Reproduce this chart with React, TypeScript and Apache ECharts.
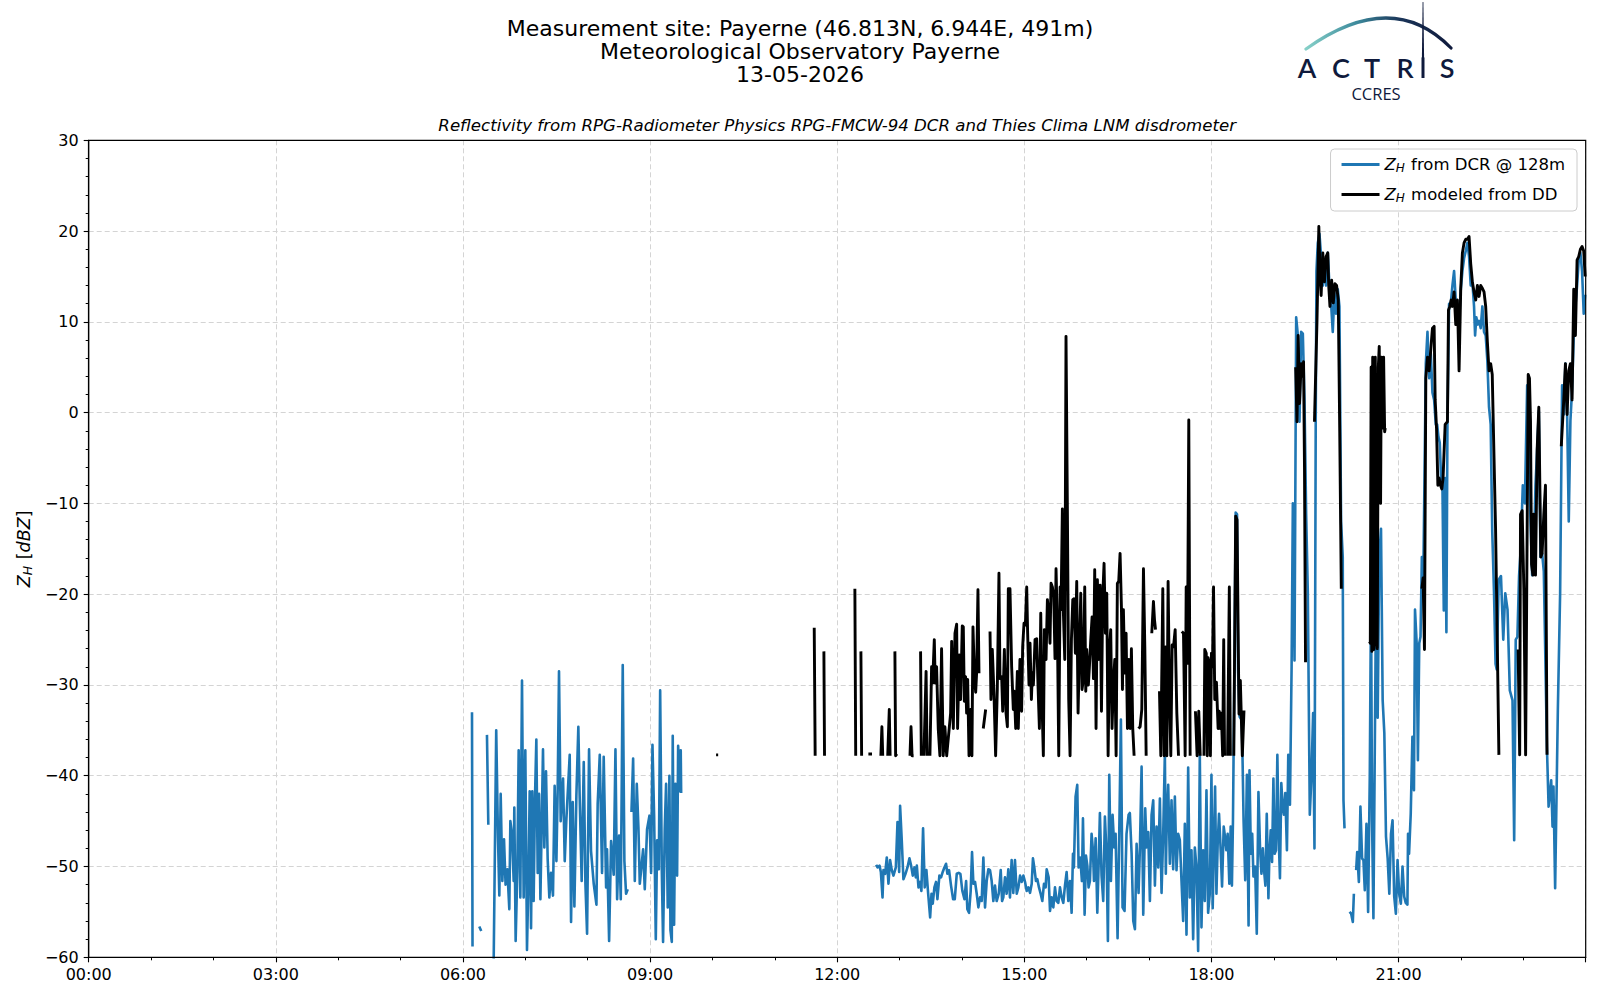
import React, { useEffect, useRef } from "react";
import * as echarts from "echarts";

const FONT = "'DejaVu Sans', 'Noto Sans', sans-serif";

const titleLines = [
  "Measurement site: Payerne (46.813N, 6.944E, 491m)",
  "Meteorological Observatory Payerne",
  "13-05-2026",
];
const subtitle =
  "Reflectivity from RPG-Radiometer Physics RPG-FMCW-94 DCR and Thies Clima LNM disdrometer";
const xTickLabels = ["00:00", "03:00", "06:00", "09:00", "12:00", "15:00", "18:00", "21:00"];

// time in minutes since 00:00 UTC, reflectivity in dBZ ; null = data gap
const dcrMorning = [
  [368.7, -33.0], [369.2, -58.8], null,
  [375.7, -56.6], [377.6, -57.1], null,
  [383.1, -35.5], [384.4, -45.4], null,
  [389.5, -61], [392.0, -35.0], [393.7, -46.8], [395.0, -53.2], [396.3, -42.0], [397.9, -51.6], [399.5, -47.0],
  [401.0, -52.0], [402.7, -50.3], [404.6, -54.7], [405.6, -45.0], [407.2, -46.4], [408.8, -51.6], [409.4, -43.5],
  [410.7, -58.2], [412.3, -50.5], [413.6, -37.2], [415.2, -53.4], [416.8, -29.5], [418.4, -53.4], [420.0, -37.2],
  [421.6, -59.2], [423.2, -50.1], [424.2, -41.7], [425.5, -56.8], [426.7, -41.7], [428.0, -53.8], [429.3, -42.4],
  [430.6, -36.0], [431.9, -50.7], [433.2, -42.0], [434.5, -53.6], [437.0, -37.1], [438.3, -47.9], [439.9, -39.5],
  [441.5, -49.2], [443.1, -53.4], [444.7, -50.7], [446.6, -53.2], [448.2, -41.1], [449.9, -49.4], [451.1, -41.7],
  [452.4, -28.5], [454.0, -45.0], [456.3, -40.3], [457.9, -49.4], [459.5, -44.8], [462.7, -37.7], [464.0, -56.1],
  [465.6, -42.9], [467.2, -54.4], [469.1, -42.2], [471.0, -34.6], [472.3, -42.4], [474.2, -51.6], [476.2, -38.5],
  [477.8, -51.9], [479.4, -57.4], [481.3, -37.1], [483.2, -48.3], [485.8, -51.9], [488.4, -54.2], [489.6, -43.1],
  [491.6, -37.7], [493.8, -50.7], [495.4, -37.9], [497.7, -52.3], [498.6, -48.1], [500.6, -58.2], [502.5, -47.2],
  [505.0, -50.9], [506.7, -37.1], [508.3, -53.6], [510.2, -46.6], [511.8, -53.6], [513.7, -27.8], [515.3, -49.4],
  [516.9, -53.0], [518.5, -52.5], null,
  [522.1, -44.0], [523.7, -38.1], [525.3, -51.6], [527.2, -40.9], [528.8, -45.7], [530.1, -51.9], [533.3, -48.1],
  [534.9, -52.5], [537.1, -45.9], [539.4, -44.4], [541.0, -50.7], [542.3, -36.6], [543.9, -44.4], [545.5, -58.0],
  [546.8, -47.1], [548.4, -50.3], [549.7, -30.6], [551.3, -50.5], [552.5, -58.3], [554.1, -45.9], [555.4, -40.9],
  [557.0, -54.5], [558.6, -40.0], [559.6, -57.0], [560.9, -58.3], [561.8, -35.6], [563.1, -56.4], [564.4, -40.9],
  [566.0, -51.0], [567.0, -36.7], [568.6, -41.7], [569.5, -37.2], [569.9, -41.9],
];

const dcrAfternoon = [
  [757.5, -49.8], [758.8, -50.1], [760.7, -49.9], [762.0, -50.6], [763.6, -53.4], [764.5, -50.4], [766.1, -50.8],
  [767.7, -49.0], [769.3, -51.9], [770.9, -49.3], [772.5, -50.4], [774.1, -51.0], [776.4, -50.1], [778.0, -45.1],
  [779.6, -50.6], [780.5, -43.3], [782.1, -47.1], [783.7, -51.4], [785.7, -50.8], [787.6, -50.1], [789.5, -49.1],
  [791.1, -49.9], [792.7, -51.0], [794.3, -50.1], [795.6, -51.2], [796.6, -49.9], [798.2, -52.3], [799.8, -51.7],
  [801.0, -52.7], [802.6, -45.8], [804.2, -52.3], [805.8, -50.4], [807.5, -53.0], [809.4, -55.6], [810.7, -53.0],
  [811.9, -54.1], [813.5, -52.3], [815.1, -51.7], [816.4, -53.6], [818.3, -51.0], [819.9, -51.2], [821.5, -50.6],
  [823.1, -50.1], [824.7, -49.7], [826.0, -50.8], [827.6, -50.4], [829.5, -52.1], [831.5, -53.6], [833.1, -53.6],
  [835.0, -50.8], [836.9, -50.7], [838.5, -50.8], [840.4, -52.7], [842.4, -53.6], [844.0, -51.6], [845.2, -54.7],
  [846.8, -55.1], [848.4, -52.7], [849.7, -48.4], [851.0, -51.9], [852.6, -51.7], [854.2, -53.0], [855.8, -54.5],
  [857.4, -53.4], [859.0, -53.8], [860.6, -49.0], [862.2, -54.5], [863.8, -51.6], [865.4, -50.3], [867.0, -50.4],
  [868.6, -51.6], [870.2, -53.8], [871.8, -52.1], [873.4, -53.8], [875.4, -53.0], [877.3, -50.4], [878.6, -53.8],
  [879.8, -53.4], [881.4, -51.2], [883.0, -53.0], [884.6, -50.3], [886.2, -53.4], [887.8, -49.3], [889.4, -52.9],
  [891.0, -49.3], [892.7, -53.0], [894.3, -52.3], [895.9, -51.0], [897.5, -51.7], [899.1, -51.0], [900.7, -51.7],
  [902.3, -52.7], [903.9, -52.3], [905.5, -52.9], [907.1, -51.9], [908.3, -49.1], [909.6, -50.1], [911.2, -51.6],
  [912.5, -51.4], [914.1, -52.3], [915.7, -53.0], [917.3, -53.8], [918.9, -51.9], [920.5, -52.3], [921.5, -50.3],
  [923.4, -51.2], [924.7, -54.9], [926.3, -53.4], [927.9, -54.5], [929.5, -52.3], [931.1, -53.8], [932.7, -54.0],
  [934.3, -52.3], [935.9, -53.4], [937.5, -54.0], [939.1, -52.1], [940.7, -50.6], [942.3, -53.8], [943.9, -51.6],
  [945.5, -55.1], [946.8, -48.6], [947.7, -50.1], [949.3, -42.3], [950.9, -41.0], [952.2, -50.1], [953.8, -49.0],
  [955.4, -51.6], [956.4, -44.7], [958.0, -55.3], [959.3, -48.8], [960.6, -49.9], [961.8, -52.3], [963.1, -51.6],
  [964.7, -46.4], [966.0, -48.2], [967.0, -51.6], [968.6, -46.9], [970.2, -55.1], [971.4, -50.1], [972.7, -44.1],
  [974.3, -51.0], [975.9, -53.8], [977.5, -44.5], [979.1, -48.6], [980.4, -58.2], [981.7, -39.9], [983.3, -51.6],
  [984.9, -44.3], [986.5, -47.9], [987.8, -46.4], [989.7, -57.9], [991.3, -46.4], [992.9, -33.8], [994.5, -54.5],
  [996.4, -54.9], [998.3, -46.4], [1000.3, -44.3], [1001.5, -44.1], [1003.2, -48.6], [1004.8, -56.0], [1006.4, -56.9],
  [1008.0, -47.5], [1009.9, -52.9], [1011.2, -47.9], [1012.8, -39.0], [1014.4, -55.3], [1016.3, -43.6], [1017.6, -47.9],
  [1019.2, -46.2], [1020.8, -53.8], [1022.4, -44.3], [1024.0, -42.7], [1025.6, -52.1], [1027.2, -45.6], [1028.8, -50.1],
  [1030.4, -42.5], [1032.0, -52.9], [1033.6, -46.4], [1035.2, -37.5], [1036.1, -50.8], [1037.1, -44.5], [1038.4, -41.0],
  [1040.0, -49.7], [1041.6, -42.7], [1043.2, -50.3], [1044.8, -42.3], [1046.4, -50.4], [1048.0, -46.4], [1049.6, -47.1],
  [1051.2, -51.6], [1052.8, -56.0], [1054.4, -45.3], [1056.0, -57.5], [1057.6, -39.1], [1059.2, -53.4], [1060.8, -48.2],
  [1062.4, -58.0], [1064.0, -47.9], [1065.6, -50.1], [1067.2, -59.3], [1068.8, -37.7], [1070.4, -56.7], [1072.0, -48.2],
  [1073.6, -53.8], [1075.2, -41.6], [1076.8, -55.1], [1078.4, -53.0], [1080.0, -39.9],
];

const dcrEvening = [
  [1081.2, -54.6], [1082.2, -48.6], [1083.5, -41.2], [1084.8, -53.0], [1086.0, -47.5], [1087.3, -44.2], [1088.6, -47.5],
  [1090.2, -52.2], [1091.8, -45.6], [1093.0, -46.7], [1094.3, -48.2], [1095.6, -46.4], [1097.2, -51.9], [1098.5, -45.6],
  [1099.7, -52.1], [1100.7, -44.9], [1102.0, -29.1], [1103.3, -11.0], [1104.6, -11.2], [1105.6, -28.5], [1107.1, -33.5],
  [1109.3, -33.9], [1110.9, -44.9], [1112.5, -51.5], [1114.1, -39.9], [1115.7, -56.5], [1116.6, -39.4], [1117.9, -48.6],
  [1119.2, -46.4], [1120.4, -51.1], [1122.0, -50.0], [1123.6, -57.4], [1125.2, -41.8], [1126.8, -48.2], [1128.1, -50.8],
  [1129.4, -48.0], [1130.6, -50.4], [1131.9, -52.1], [1133.2, -44.2], [1134.8, -53.5], [1135.7, -48.9], [1137.0, -46.0],
  [1138.3, -49.5], [1139.6, -40.3], [1140.8, -48.6], [1142.1, -48.2], [1143.4, -37.7], [1144.6, -46.4], [1145.9, -51.3],
  [1147.2, -40.8], [1148.5, -43.4], [1149.7, -44.3], [1151.0, -41.9], [1152.6, -48.2], [1153.9, -37.7], [1155.5, -43.2],
  [1157.1, -28.0], [1158.3, -10.0], [1159.9, -27.3], [1161.5, 10.5], [1163.1, 8.5], [1164.7, -1.0], [1166.3, 8.9],
  [1167.9, 8.7], [1169.5, 1.4], [1171.1, -11.2], [1172.7, -19.8], [1174.6, -44.3], [1176.2, -40.0], [1177.8, -33.1],
  [1179.1, -48.0], [1180.3, -1.0], [1181.0, 15.6], [1182.3, 18.7], [1183.9, 19.7], [1185.5, 17.2], [1187.1, 14.0],
  [1188.7, 16.8], [1190.3, 14.0], [1191.9, 17.6], [1193.5, 14.0], [1195.1, 12.0], [1196.7, 8.9], [1198.3, 13.2],
  [1199.9, 10.9], [1201.5, 13.6], [1203.1, 11.7], [1204.7, -12.0], [1206.3, -15.9], [1207.0, -42.7], [1208.0, -45.8],
];

const dcrNight = [
  [1212.8, -55.0], [1214.4, -55.2], [1216.0, -56.1], [1217.0, -53.0], null,
  [1219.2, -50.4], [1220.2, -48.4], [1221.8, -51.7], [1223.3, -43.4], [1224.9, -49.1], [1226.2, -49.3], [1227.5, -52.6],
  [1229.1, -45.3], [1230.7, -55.0], [1232.3, -40.0], [1233.5, -20.0], [1234.5, -45.0], [1235.8, -55.7], [1238.3, -20.6],
  [1239.9, -33.6], [1241.4, -15.9], [1243.1, -12.8], [1244.7, -31.7], [1246.3, -35.3], [1247.9, -46.7], [1249.5, -49.1],
  [1251.1, -53.0], [1252.7, -46.4], [1254.2, -44.9], [1255.8, -53.3], [1257.4, -55.2], [1259.0, -49.3], [1260.6, -53.0],
  [1262.2, -54.1], [1263.8, -50.0], [1265.4, -53.3], [1266.9, -54.0], [1268.5, -54.2], [1269.1, -46.4], [1270.1, -48.6],
  [1271.7, -44.2], [1273.3, -35.7], [1274.8, -41.6], [1275.8, -21.7], [1277.4, -25.4], [1278.6, -38.3], [1279.9, -25.4],
  [1281.1, -24.7], [1282.4, -15.9], [1283.6, -19.8], [1284.9, -7.6], [1286.2, 5.4], [1287.8, 8.9], [1289.4, 3.8],
  [1291.0, 6.5], [1292.6, 2.2], [1294.2, 1.4], [1295.8, -1.3], [1297.1, -1.3], [1298.4, -2.7], [1299.6, -3.3],
  [1300.9, -7.2], [1302.2, -8.0], [1303.5, -21.8], [1304.8, -7.2], [1306.0, -24.2], [1307.0, -1.3], [1308.6, 12.0],
  [1310.2, 12.0], [1311.8, 14.0], [1313.4, 15.6], [1315.0, 12.4], [1316.6, 12.0], [1318.2, 10.0], [1319.8, 13.5],
  [1321.4, 15.6], [1323.0, 17.0], [1324.6, 17.8], [1326.2, 18.7], [1327.8, 17.2], [1329.4, 14.0], [1331.0, 14.4],
  [1332.6, 11.7], [1333.6, 8.5], [1334.8, 10.5], [1336.1, 9.7], [1337.4, 10.1], [1339.0, 9.3], [1340.6, 11.7],
  [1342.2, 8.9], [1343.8, 8.5], [1345.4, 5.7], [1347.0, 0.6], [1348.6, -1.3], [1350.1, -13.1], [1351.8, -19.8],
  [1353.3, -27.7], [1354.4, -28.3], [1356.3, -18.4], [1358.5, -18.0], [1360.7, -25.0], [1362.6, -19.9], [1364.8, -21.7],
  [1367.0, -30.6], [1369.6, -31.7], [1371.2, -47.1], [1372.7, -25.0], [1374.3, -24.7], [1375.9, -18.0], [1377.5, -15.0],
  [1379.5, -8.0], [1381.5, -10.0], [1383.7, 3.0], [1385.3, -4.1], [1386.9, -12.0], [1388.5, -17.9], [1390.1, -15.9],
  [1391.7, -8.0], [1393.3, -4.1], [1394.9, 0.2], [1396.5, -15.9], [1398.1, -15.5], [1399.7, -17.5], [1402.7, -36.8],
  [1404.3, -43.4], [1406.8, -40.5], [1408.1, -45.6], [1409.0, -41.2], [1410.6, -52.4], [1413.2, -32.8], [1415.4, -19.9],
  [1417.3, 3.0], [1418.9, -0.2], [1420.5, 5.4], [1422.1, 0.2], [1423.7, -12.0], [1425.3, -0.9], [1426.9, 2.6],
  [1428.5, 8.5], [1430.1, 11.7], [1431.7, 14.0], [1433.3, 16.8], [1434.9, 17.6], [1436.5, 15.6], [1438.1, 10.9],
  [1439.5, 13.0],
];

const ddMorning = [[603.5, -37.7], [605.5, -37.7]];

const ddNoon = [
  [697.9, -23.7], [698.8, -37.8], null,
  [707.2, -26.3], [707.8, -37.8], null,
  [737.0, -19.4], [737.8, -37.8], null,
  [742.8, -26.3], [743.5, -37.8], null,
  [750.0, -37.6], [753.5, -37.6], null,
  [762.0, -37.8], [763.0, -34.6], [763.8, -37.8], null,
  [768.6, -37.8], [770.1, -32.7], [770.9, -37.8], null,
  [775.5, -26.3], [776.2, -37.8], [777.4, -37.6], null,
  [790.0, -37.8], [791.0, -34.6], [792.0, -37.8], [793.5, -37.8], null,
  [800.2, -26.3], [800.9, -37.8], null,
  [803.4, -37.8], [805.5, -28.5], [806.5, -37.8], null,
];

const ddAfternoon = [
  [809.2, -37.8], [810.8, -28.0], [811.8, -29.8], [812.4, -28.0], [813.4, -25.0], [814.3, -29.8], [815.6, -28.0],
  [817.2, -34.8], [818.8, -37.8], [820.4, -26.0], [822.0, -37.8], [823.6, -34.6], [825.3, -37.8], [829.1, -33.1],
  [830.1, -25.2], [831.7, -34.8], [833.3, -24.3], [834.9, -23.3], [835.8, -34.8], [837.4, -26.7], [838.7, -31.6],
  [840.3, -23.5], [841.3, -23.6], [842.3, -31.8], [843.5, -29.1], [844.5, -33.1], [845.5, -29.4], [846.8, -37.8],
  [848.4, -32.7], [849.6, -37.8], [850.6, -23.6], [851.9, -28.7], [853.2, -30.8], [854.1, -28.7], [855.4, -19.5],
  [856.4, -28.7], null,
  [860.5, -34.8], [862.8, -32.7], null,
  [867.0, -24.1], [867.9, -31.6], [869.2, -26.1], [870.8, -30.9], [872.4, -37.8], [874.0, -30.5], [875.6, -17.7],
  [876.6, -29.3], [878.2, -29.1], [879.2, -32.9], [880.8, -26.1], [882.4, -33.1], [883.7, -34.6], [884.6, -19.4],
  [886.2, -19.4], [887.8, -28.0], [889.4, -32.7], [890.4, -30.7], [891.7, -34.8], [893.3, -28.5], [894.2, -34.8],
  [895.8, -27.2], [897.4, -32.9], [898.4, -25.8], [899.7, -23.2], [901.0, -23.4], [902.3, -19.2], [903.2, -24.3],
  [904.5, -30.0], [905.5, -25.4], [906.8, -31.6], [907.7, -28.7], [908.7, -30.0], [910.3, -25.0], [911.9, -24.9],
  [913.2, -30.2], [914.5, -34.8], [915.8, -22.1], [916.7, -30.5], [918.3, -37.8], [919.3, -23.9], [920.9, -27.2],
  [922.2, -20.6], [923.5, -22.1], [924.7, -25.4], [925.7, -18.8], [927.0, -19.2], [928.3, -20.3], [929.5, -27.1],
  [930.5, -17.2], [931.8, -23.6], [933.1, -37.8], [934.4, -19.2], [935.3, -21.7], [936.6, -10.6], [937.6, -22.1],
  [938.9, -27.2], [940.1, 8.4], [941.4, -10.4], [942.7, -31.6], [944.0, -37.8], [945.3, -25.0], [946.6, -20.6],
  [947.8, -20.5], [949.1, -26.5], [950.4, -18.6], [951.7, -33.1], [953.0, -26.1], [954.3, -19.9], [955.5, -30.5],
  [956.8, -29.4], [958.1, -19.2], [959.1, -30.7], [960.0, -26.1], [961.6, -30.0], [962.6, -28.0], [963.9, -25.0],
  [965.2, -22.5], [966.5, -29.3], [967.7, -17.3], [969.0, -34.8], [970.3, -18.4], [971.6, -27.2], [972.9, -19.0],
  [974.2, -32.9], [975.4, -20.3], [976.7, -16.6], [978.0, -24.3], [979.3, -19.9], [980.6, -37.8], [981.9, -26.0],
  [983.1, -23.9], [984.4, -34.8], [985.7, -29.8], [987.0, -27.2], [988.3, -37.8], [989.5, -18.8], [990.8, -18.6],
  [992.1, -15.5], [993.4, -21.4], [994.4, -30.5], [995.3, -21.7], [996.6, -28.7], [997.9, -24.3], [999.2, -34.8],
  [1000.5, -27.2], [1001.8, -34.8], [1003.0, -26.0], [1004.3, -34.8], [1005.6, -37.8], null,
  [1009.8, -34.8], [1011.4, -34.6], [1013.0, -32.7], [1014.6, -17.2], [1015.9, -25.8], [1017.2, -37.8], null,
  [1022.6, -24.3], [1024.2, -20.8], [1025.2, -22.8], [1026.2, -23.9], null,
  [1030.0, -30.7], [1031.3, -37.8], [1033.2, -19.4], [1034.5, -37.8], [1035.8, -25.8], [1037.1, -37.8], [1038.3, -18.6],
  [1039.6, -30.5], [1040.9, -37.8], [1042.2, -25.6], [1043.5, -25.8], [1045.1, -23.9], [1046.7, -33.1], [1048.3, -37.8], null,
  [1051.5, -24.1], [1053.1, -24.3], [1054.7, -37.8], [1055.7, -19.2], [1056.9, -27.6], [1058.2, -0.8], [1059.5, -37.8], null,
  [1064.6, -32.9], [1066.2, -37.8], [1067.8, -32.9], [1069.2, -37.8], null,
  [1072.8, -37.8], [1073.6, -26.1], [1075.0, -26.5], [1076.0, -37.8], [1076.8, -27.0], [1078.0, -27.7], [1079.0, -37.8],
  [1080.0, -26.5], [1081.0, -28.0], [1082.0, -19.2], [1083.2, -31.6], [1084.8, -29.7], [1086.4, -34.8], [1087.5, -32.9],
  [1088.6, -34.8], [1089.5, -33.1], [1090.8, -37.8], [1091.8, -25.0], [1092.6, -37.8], null,
  [1095.5, -37.8], [1097.2, -19.2], [1098.2, -37.8], null,
  [1101.5, -37.8], [1103.3, -11.4], [1104.6, -11.8], [1106.5, -33.2], [1107.8, -29.5], [1109.7, -37.8], [1111.3, -32.8],
];

const ddEvening = [
  [1161.0, 5.0], [1162.3, -1.0], [1163.4, 8.5], [1164.7, 1.0], [1166.3, 5.4], [1167.5, 4.0], [1168.6, 5.6],
  [1169.5, -6.0], [1170.5, -27.5], null,
  [1179.1, -1.0], [1181.5, 10.0], [1183.3, 20.5], [1184.5, 15.0], [1185.5, 12.9], [1187.1, 17.6], [1188.7, 14.4],
  [1190.3, 17.2], [1191.9, 17.6], [1192.8, 14.0], [1194.0, 11.7], [1195.6, 14.6], [1197.2, 12.1], [1198.8, 14.2],
  [1200.4, 14.0], [1202.0, 12.4], [1203.4, -2.1], [1204.9, -19.4], null,
  [1232.0, -25.2], [1232.8, -25.4], [1233.6, 5.0], [1234.3, -26.3], [1235.1, 6.1], [1236.3, -26.1], [1237.6, 6.1],
  [1238.9, -25.4], [1239.5, -26.0], [1240.5, 5.0], [1241.4, 7.3], [1242.7, -10.0], [1243.4, 6.1], [1244.6, -1.7],
  [1245.6, 6.1], [1246.6, -2.1], [1247.2, -1.7],
];

const ddNight = [
  [1282.4, -19.4], [1283.6, -18.2], [1284.9, -26.1], [1286.2, 3.8], [1287.8, 6.1], [1289.4, 4.6], [1291.0, 7.0],
  [1292.6, 9.3], [1294.2, 9.5], [1295.2, 1.4], [1296.5, -1.7], [1297.8, -8.0], [1299.0, -7.2], [1300.3, -8.0],
  [1301.6, -8.4], [1302.8, -7.2], [1304.8, -1.3], [1307.0, -1.0], [1308.0, 11.3], [1309.3, 11.7], [1310.6, 12.4],
  [1311.8, 11.7], [1313.4, 13.3], [1315.0, 9.7], [1316.6, 12.4], [1318.2, 4.6], [1319.8, 13.7], [1321.4, 17.6],
  [1323.0, 18.7], [1324.6, 19.1], [1326.2, 19.1], [1327.8, 19.4], [1329.4, 16.4], [1331.0, 14.4], [1332.6, 13.3],
  [1334.2, 12.4], [1335.8, 14.0], [1337.4, 12.8], [1339.0, 14.0], [1340.6, 13.7], [1342.2, 13.3], [1343.8, 11.7],
  [1345.4, 7.8], [1347.0, 4.6], [1348.6, 5.4], [1350.1, 4.2], [1351.8, -4.9], [1353.3, -12.8], [1355.0, -25.7],
  [1356.5, -37.7], null,
  [1375.0, -26.1], [1376.5, -37.7], [1377.3, -11.2], [1378.9, -10.8], [1380.5, -19.4], [1382.2, -37.7], [1384.7, 4.2],
  [1385.9, 3.8], [1386.9, -0.9], [1387.9, -16.7], [1389.2, -17.9], [1390.1, -11.2], [1391.7, -17.9], [1393.3, -4.1],
  [1394.9, 0.6], [1395.9, -8.0], [1396.8, -15.9], [1398.1, -15.5], [1399.7, -11.2], [1401.3, -8.0], [1402.8, -37.7], null,
  [1416.5, -3.7], [1418.9, 1.4], [1420.5, 5.4], [1422.1, -0.2], [1423.7, 4.6], [1425.3, 5.4], [1426.9, 1.4],
  [1428.5, 13.6], [1430.1, 8.5], [1431.7, 16.8], [1433.3, 17.2], [1434.9, 18.0], [1436.5, 18.3], [1438.1, 17.8],
  [1439.5, 15.0],
];

const GAP = null;

function build(points: any[]): any[] {
  const out: any[] = [];
  let last = 0;
  for (const p of points) {
    if (p === null) {
      out.push([last + 0.05, null]);
    } else {
      out.push(p);
      last = p[0];
    }
  }
  return out;
}

const minus = (v: number) => (v < 0 ? "\u2212" + Math.abs(v) : String(v));

// plot area in pixels (layout only)
const PLOT = { left: 88.7, top: 140.3, right: 1585.7, bottom: 957.3 };

export default function App() {
  const ref = useRef<HTMLDivElement>(null);

  useEffect(() => {
    if (!ref.current) return;
    const chart = echarts.init(ref.current, null, { renderer: "svg" });

    const dcrData = build([...dcrMorning, GAP, ...dcrAfternoon, ...dcrEvening, GAP, ...dcrNight]);
    const ddData = build([...ddMorning, GAP, ...ddNoon, ...ddAfternoon, GAP, ...ddEvening, GAP, ...ddNight]);

    const navy = "#0f1a3c";
    const subRich = {
      z: { fontStyle: "italic", fontFamily: FONT, fontSize: 16.5, color: "#000" },
      s: { fontStyle: "italic", fontFamily: FONT, fontSize: 12, color: "#000", padding: [7, 1, 0, 0] },
      t: { fontFamily: FONT, fontSize: 16.5, color: "#000" },
    };
    const axisRich = {
      z: { fontStyle: "italic", fontFamily: FONT, fontSize: 17.5, color: "#000" },
      s: { fontStyle: "italic", fontFamily: FONT, fontSize: 12.5, color: "#000", padding: [7, 1, 0, 0] },
      t: { fontFamily: FONT, fontSize: 17.5, color: "#000" },
    };

    const option: any = {
      animation: false,
      backgroundColor: "#ffffff",
      textStyle: { fontFamily: FONT },
      grid: {
        left: PLOT.left,
        right: 1600 - PLOT.right,
        top: PLOT.top,
        bottom: 1000 - PLOT.bottom,
        show: false,
        containLabel: false,
      },
      legend: {
        data: [
          { name: "dcr", icon: "rect" },
          { name: "dd", icon: "rect" },
        ],
        orient: "vertical",
        right: 23,
        top: 149,
        itemWidth: 38,
        itemHeight: 2.8,
        itemGap: 12,
        padding: [7, 12, 7, 11],
        borderColor: "#cccccc",
        borderWidth: 1,
        borderRadius: 4,
        backgroundColor: "rgba(255,255,255,0.85)",
        formatter: (name: string) =>
          name === "dcr" ? "{z|Z}{s|H}{t| from DCR @ 128m}" : "{z|Z}{s|H}{t| modeled from DD}",
        textStyle: { fontFamily: FONT, fontSize: 16.5, color: "#000", rich: subRich },
      },
      xAxis: {
        type: "value",
        min: 0,
        max: 1440,
        interval: 180,
        axisLine: { show: true, onZero: false, lineStyle: { color: "#000", width: 1.2 } },
        axisTick: { show: true, length: 5, lineStyle: { color: "#000", width: 1.1 } },
        minorTick: { show: true, splitNumber: 3, length: 3, lineStyle: { color: "#000", width: 1 } },
        axisLabel: {
          fontFamily: FONT,
          fontSize: 16,
          color: "#000",
          margin: 9,
          formatter: (v: number) => xTickLabels[Math.round(v / 180)] ?? "",
          showMaxLabel: false,
        },
        splitLine: { show: true, lineStyle: { color: "#d4d4d4", width: 1, type: [5, 3] } },
      },
      yAxis: {
        type: "value",
        min: -60,
        max: 30,
        interval: 10,
        name: "{z|Z}{s|H}{t| [}{z|dBZ}{t|]}",
        nameLocation: "middle",
        nameRotate: 90,
        nameGap: 55,
        nameTextStyle: { fontFamily: FONT, fontSize: 17.5, color: "#000", rich: axisRich },
        axisLine: { show: true, onZero: false, lineStyle: { color: "#000", width: 1.2 } },
        axisTick: { show: true, length: 5, lineStyle: { color: "#000", width: 1.1 } },
        minorTick: { show: true, splitNumber: 5, length: 3, lineStyle: { color: "#000", width: 1 } },
        axisLabel: { fontFamily: FONT, fontSize: 16, color: "#000", margin: 10, formatter: minus },
        splitLine: { show: true, lineStyle: { color: "#d4d4d4", width: 1, type: [5, 3] } },
      },
      series: [
        {
          name: "dcr",
          type: "line",
          data: dcrData,
          showSymbol: false,
          symbol: "none",
          connectNulls: false,
          clip: true,
          lineStyle: { color: "#1f77b4", width: 2.6, join: "round" },
          itemStyle: { color: "#1f77b4" },
          z: 2,
        },
        {
          name: "dd",
          type: "line",
          data: ddData,
          showSymbol: false,
          symbol: "none",
          connectNulls: false,
          clip: true,
          lineStyle: { color: "#000000", width: 2.9, join: "round" },
          itemStyle: { color: "#000000" },
          z: 3,
        },
      ],
      graphic: [
        {
          type: "rect",
          z: 50,
          silent: true,
          shape: {
            x: PLOT.left,
            y: PLOT.top,
            width: PLOT.right - PLOT.left,
            height: PLOT.bottom - PLOT.top,
          },
          style: { fill: "none", stroke: "#000", lineWidth: 1.2 },
        },
        ...titleLines.map((t, i) => ({
          type: "text",
          x: 800,
          y: [28.8, 51.6, 74.6][i],
          style: {
            text: t,
            fontFamily: FONT,
            fontSize: 22,
            fill: "#000",
            align: "center",
            verticalAlign: "middle",
          },
        })),
        {
          type: "text",
          x: 837.2,
          y: 125.5,
          style: {
            text: subtitle,
            fontFamily: FONT,
            fontSize: 16.6,
            fontStyle: "italic",
            fill: "#000",
            align: "center",
            verticalAlign: "middle",
          },
        },
        // ACTRIS logo
        {
          type: "bezierCurve",
          shape: { x1: 1306, y1: 49, x2: 1451, y2: 48, cpx1: 1392, cpy1: -12.5 },
          style: {
            fill: "none",
            lineWidth: 3.2,
            lineCap: "round",
            stroke: new echarts.graphic.LinearGradient(0, 0, 1, 0, [
              { offset: 0, color: "#86d0c8" },
              { offset: 0.35, color: "#3d8a9c" },
              { offset: 0.65, color: "#1a3458" },
              { offset: 1, color: navy },
            ]),
          },
        },
        {
          type: "polygon",
          shape: { points: [[1421.9, 58], [1424.1, 58], [1423.4, 2], [1422.6, 2]] },
          style: { fill: navy },
        },
        { type: "rect", shape: { x: 1421.5, y: 57.5, width: 3, height: 20.5 }, style: { fill: navy } },
        ...[
          ["A", 1307],
          ["C", 1341],
          ["T", 1372],
          ["R", 1405],
          ["S", 1447],
        ].map(([ch, x]) => ({
          type: "text",
          x: x as number,
          y: 67.5,
          style: {
            text: ch as string,
            fontFamily: "Lato, 'Open Sans', sans-serif",
            fontSize: 27,
            fontWeight: 600,
            fill: navy,
            align: "center",
            verticalAlign: "middle",
          },
        })),
        {
          type: "text",
          x: 1376,
          y: 93,
          style: {
            text: "CCRES",
            fontFamily: "'Open Sans', Lato, sans-serif",
            fontSize: 16.5,
            fill: navy,
            align: "center",
            verticalAlign: "middle",
          },
        },
      ],
    };

    chart.setOption(option);
    return () => chart.dispose();
  }, []);

  return (
    <div
      ref={ref}
      style={{ position: "fixed", left: 0, top: 0, width: 1600, height: 1000, background: "#fff" }}
    />
  );
}
